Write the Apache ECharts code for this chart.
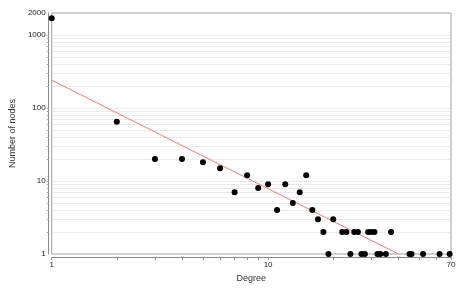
<!DOCTYPE html>
<html>
<head>
<meta charset="utf-8">
<script src="https://cdn.jsdelivr.net/npm/echarts@6/dist/echarts.min.js"></script>
<style>
    html, body { margin: 0; padding: 0; background: #fff; }
    #chart { width: 460px; height: 288px; }
</style>
</head>
<body>
<div id="chart"></div>
<script>
// degree distribution, [degree, number of nodes]
var nodePoints = [
    [1, 1700], [2, 65], [3, 20], [4, 20], [5, 18], [6, 15], [7, 7], [8, 12],
    [9, 8], [10, 9], [11, 4], [12, 9], [13, 5], [14, 7], [15, 12], [16, 4],
    [17, 3], [18, 2], [19, 1], [20, 3], [22, 2], [23, 2], [24, 1], [25, 2],
    [26, 2], [27, 1], [28, 1], [29, 2], [30, 2], [31, 2], [32, 1], [33, 1],
    [35, 1], [37, 2], [45, 1], [46, 1], [52, 1], [62, 1], [69, 1]
];
// fitted power law, end points
var fitLine = [[1, 240], [40, 1]];

var xLabels = [1, 10, 70];
var xTicks = [1, 2, 3, 4, 5, 6, 7, 8, 9, 10, 20, 30, 40, 50, 60, 70];
var yLabels = [1, 10, 100, 1000, 2000];
var gridValues = [2, 3, 4, 5, 6, 7, 8, 9, 10, 20, 30, 40, 50, 60, 70, 80, 90,
    100, 200, 300, 400, 500, 600, 700, 800, 900, 1000];

var chart = echarts.init(document.getElementById('chart'));

var option = {
    animation: false,
    textStyle: { fontFamily: 'Liberation Sans, Arial, sans-serif' },
    grid: {
        left: 49,
        right: 9,
        top: 13,
        bottom: 33,
        show: true,
        borderColor: '#a0a0a0',
        borderWidth: 1
    },
    xAxis: {
        type: 'log',
        logBase: 10,
        min: 1,
        max: 70,
        offset: 3,
        name: 'Degree',
        nameLocation: 'middle',
        nameGap: 17,
        nameTextStyle: { fontSize: 9, color: '#333' },
        axisLine: { lineStyle: { color: '#888', width: 1 } },
        axisTick: { length: 3, lineStyle: { color: '#999' }, customValues: xTicks },
        axisLabel: {
            fontSize: 8, color: '#222', margin: 4, customValues: xLabels,
            formatter: function (v) { return String(Math.round(v)); }
        },
        splitLine: { show: false }
    },
    yAxis: {
        type: 'log',
        logBase: 10,
        min: 1,
        max: 2000,
        offset: 3,
        name: 'Number of nodes',
        nameLocation: 'middle',
        nameGap: 26,
        nameTextStyle: { fontSize: 9, color: '#333' },
        axisLine: { lineStyle: { color: '#888', width: 1 } },
        axisTick: { length: 2, lineStyle: { color: '#aaa' }, customValues: gridValues },
        axisLabel: {
            fontSize: 8, color: '#222', margin: 3, customValues: yLabels,
            formatter: function (v) { return String(Math.round(v)); }
        },
        splitLine: { show: false }
    },
    series: [
        {
            name: 'grid',
            type: 'line',
            data: [],
            silent: true,
            z: 0,
            markLine: {
                silent: true,
                z: 0,
                symbol: 'none',
                label: { show: false },
                emphasis: { disabled: true },
                lineStyle: { color: '#d8d8d8', type: [1, 1], width: 1 },
                data: gridValues.map(function (v) { return { yAxis: v }; })
            }
        },
        {
            name: 'fit',
            type: 'line',
            data: fitLine,
            symbol: 'none',
            lineStyle: { color: '#f27a7a', width: 1 },
            z: 3
        },
        {
            name: 'nodes',
            type: 'scatter',
            data: nodePoints,
            symbolSize: 6,
            itemStyle: { color: '#000', opacity: 1 },
            z: 4
        }
    ]
};

chart.setOption(option);
</script>
</body>
</html>
